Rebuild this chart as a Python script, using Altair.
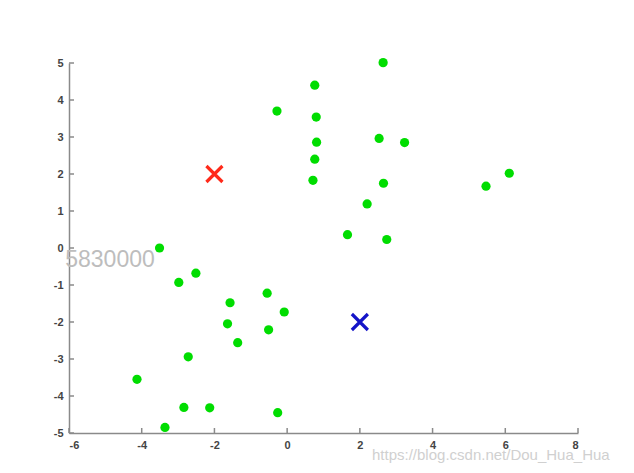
import altair as alt
import pandas as pd

# green data points
xs = [-0.28, 0.76, 0.80, 0.81, 0.76, 0.71, 2.64, 2.53, 3.23, 2.65, 2.20, 1.66, 2.74, 5.47, 6.11,
      -3.51, -2.98, -2.51, -1.57, -0.55, -0.08, -1.64, -0.51, -1.36, -2.72, -4.13, -2.84, -2.13, -0.26, -3.36]
ys = [3.70, 4.40, 3.54, 2.86, 2.40, 1.83, 5.01, 2.96, 2.85, 1.75, 1.19, 0.36, 0.23, 1.67, 2.02,
      0.00, -0.93, -0.68, -1.48, -1.22, -1.73, -2.05, -2.21, -2.56, -2.94, -3.55, -4.31, -4.32, -4.45, -4.85]

# cluster centroids
cx = [-2, 2]
cy = [2, -2]
ccolor = ["#ff2a1a", "#1414c8"]

x_ticks = [-6, -4, -2, 0, 2, 4, 6, 8]
y_ticks = [-5, -4, -3, -2, -1, 0, 1, 2, 3, 4, 5]

watermarks = ["5830000", "https://blog.csdn.net/Dou_Hua_Hua"]

W, H = 509, 370

df = pd.DataFrame({"x": xs, "y": ys})
cdf = pd.DataFrame({"x": cx, "y": cy, "c": ccolor})
xt = pd.DataFrame({"x": x_ticks, "y": [-5] * len(x_ticks)})
yt = pd.DataFrame({"y": y_ticks, "x": [-6] * len(y_ticks)})

xs_scale = alt.Scale(domain=[-6, 8], nice=False, zero=False, padding=0)
ys_scale = alt.Scale(domain=[-5, 5], nice=False, zero=False, padding=0)

lbl = "datum.value < 0 ? '-' + abs(datum.value) : '' + datum.value"
axis_common = dict(
    ticks=False, grid=False, domainColor="#8a8a8a", domainWidth=1.5,
    labelFont="Liberation Sans", labelFontSize=11, labelFontWeight="bold",
    labelColor="#444444", labelPadding=6, title=None, labelOverlap=False,
    labelExpr=lbl,
)
X = alt.X("x:Q", scale=xs_scale, axis=alt.Axis(values=x_ticks, orient="bottom", **axis_common))
Y = alt.Y("y:Q", scale=ys_scale, axis=alt.Axis(values=y_ticks, orient="left", **axis_common))

points = alt.Chart(df).mark_circle(size=85, color="#00dd00", opacity=1).encode(x=X, y=Y)

cents = alt.Chart(cdf).mark_point(
    shape="M -1 -1 L 1 1 M -1 1 L 1 -1", filled=False, strokeWidth=3.2, size=256, opacity=1
).encode(x=X, y=Y, color=alt.Color("c:N", scale=None, legend=None))

# inward tick marks along the bottom and left axes
xticks_layer = alt.Chart(xt).mark_rule(color="#8a8a8a", strokeWidth=1.5).encode(
    x=X, y=alt.value(H), y2=alt.value(H - 5)
)
yticks_layer = alt.Chart(yt).mark_rule(color="#8a8a8a", strokeWidth=1.5).encode(
    y=Y, x=alt.value(0), x2=alt.value(5)
)

wm1 = alt.Chart(pd.DataFrame({"t": [watermarks[0]]})).mark_text(
    font="Liberation Sans", fontSize=23, color="#bdbdbd", align="center", baseline="middle"
).encode(text="t:N", x=alt.value(41), y=alt.value(197))

wm2 = alt.Chart(pd.DataFrame({"t": [watermarks[1]]})).mark_text(
    font="Liberation Sans", fontSize=15, color="#d0d0d0", align="left", baseline="middle"
).encode(text="t:N", x=alt.value(303), y=alt.value(392))

chart = alt.layer(points, xticks_layer, yticks_layer, cents, wm1, wm2).properties(
    width=W, height=H,
    autosize=alt.AutoSizeParams(type="none"),
    padding={"left": 61, "top": 55, "right": 48, "bottom": 32},
    background="white",
).configure_view(stroke=None)

chart.save("out.html", embed_options={"renderer": "svg", "actions": False})
